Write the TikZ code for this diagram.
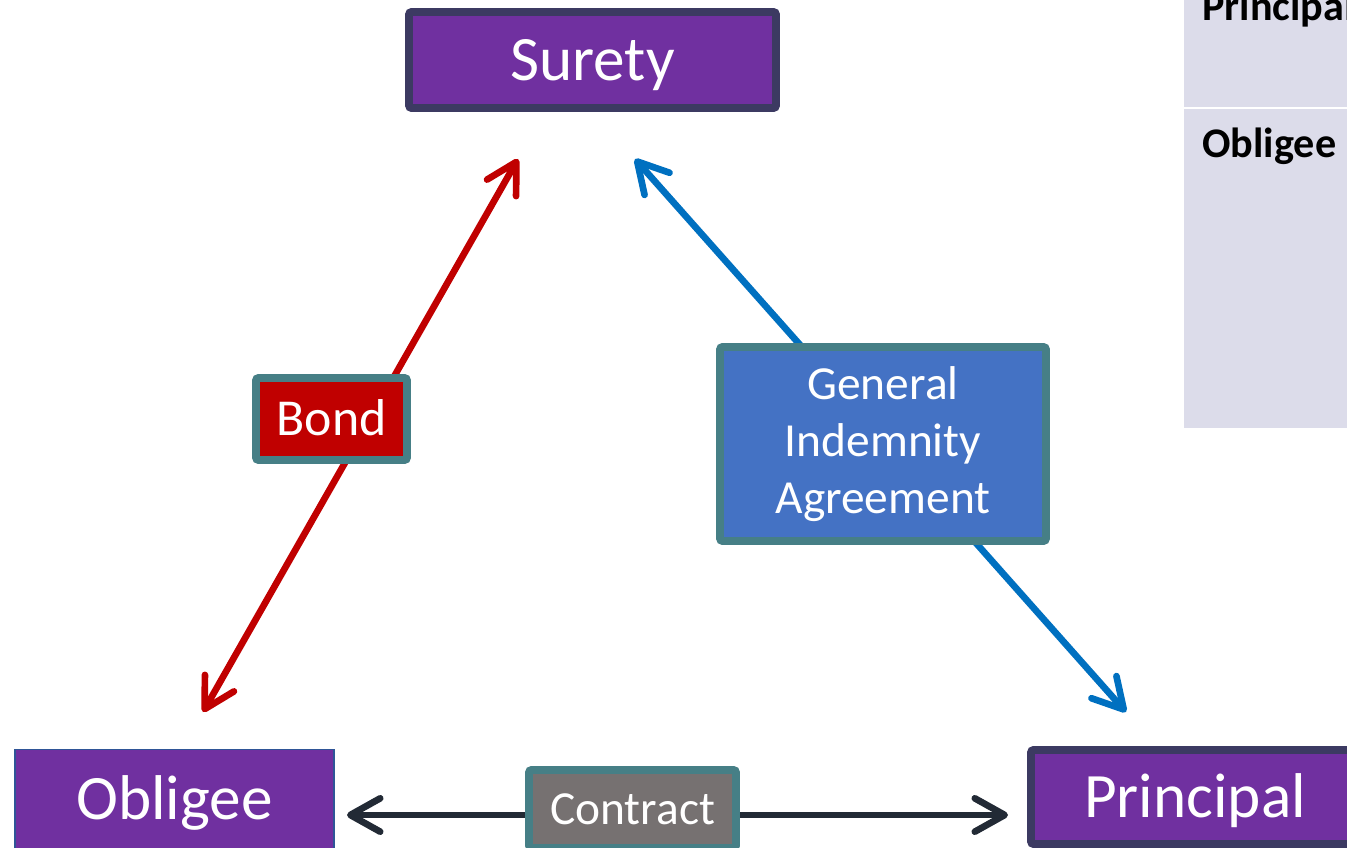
\documentclass[tikz,border=0pt]{standalone}
\usepackage{fontspec}
\setmainfont{Carlito}
\usetikzlibrary{arrows.meta}

\definecolor{partyfill}{HTML}{7030A0}
\definecolor{partyline}{HTML}{3C3A62}
\definecolor{obligeeline}{HTML}{2F5597}
\definecolor{tealline}{HTML}{467F86}
\definecolor{bondred}{HTML}{C00000}
\definecolor{giablue}{HTML}{4472C4}
\definecolor{contractgray}{HTML}{767171}
\definecolor{arrowblue}{HTML}{0070C0}
\definecolor{arrowdark}{HTML}{222A35}
\definecolor{tablefill}{HTML}{DCDCEA}

\tikzset{
  party/.style={draw=partyline, line width=4.5pt, fill=partyfill, text=white,
    rounded corners=1.5pt, inner sep=0pt,
    font=\fontsize{36}{43}\selectfont, text height=23.2pt, text depth=0pt},
  deal/.style={draw=tealline, line width=4.5pt, text=white, rounded corners=1.5pt,
    inner sep=0pt, font=\fontsize{27}{32.4}\selectfont},
  oneline/.style={text height=17.4pt, text depth=0pt},
  link/.style={line width=3.8pt, line cap=round, line join=round,
    {Straight Barb[length=17pt,width=19pt,round]}-{Straight Barb[length=17pt,width=19pt,round]}},
  tabletext/.style={anchor=base west, inner sep=0pt, font=\bfseries\fontsize{24}{28}\selectfont}
}

\begin{document}
\begin{tikzpicture}[x=0.02cm, y=-0.02cm]
\useasboundingbox (0,0) rectangle (1347,848);
\clip (0,0) rectangle (1347,848);
%\draw[step=50,gray,very thin] (0,0) grid (1347,848);

% table on the right
\fill[tablefill] (1184,0) rectangle (1347,107);
\fill[tablefill] (1184,109) rectangle (1347,428);
\node[tabletext] (tprincipal) at (1202,21) {Principal};
\node[tabletext] (tobligee) at (1202,158) {Obligee};

% the three parties
\node[party, minimum width=7.34cm, minimum height=1.92cm] (surety) at (592.5,60) {Surety};
\node[party, draw=obligeeline, line width=1pt, rounded corners=0pt,
      minimum width=6.38cm, minimum height=1.98cm] (obligee) at (174.5,799) {Obligee};
\node[party, minimum width=6.56cm, minimum height=1.88cm] (principal) at (1195,797) {Principal};

% arrows
\coordinate (bondlow) at (203,712);
\coordinate (bondhigh) at (518,159);
\coordinate (giahigh) at (635,159);
\coordinate (giralow) at (1126,712);
\coordinate (contractleft) at (347,815);
\coordinate (contractright) at (1008,815);
\draw[link, bondred] (bondlow) -- (bondhigh);
\draw[link, arrowblue] (giahigh) -- (giralow);
\draw[link, arrowdark] (contractleft) -- (contractright);

% labels on the arrows
\node[deal, fill=bondred, font=\fontsize{29.5}{35}\selectfont, text height=19pt, text depth=0pt,
      minimum width=3.02cm, minimum height=1.64cm] (bond) at (331.5,419) {Bond};
\node[deal, fill=giablue, align=center, minimum width=6.52cm, minimum height=3.88cm] (gia) at (883,444)
  {General\\Indemnity\\Agreement};
\node[deal, oneline, fill=contractgray, minimum width=4.14cm, minimum height=1.56cm] (contract) at (632.5,809) {Contract};
\end{tikzpicture}
\end{document}
